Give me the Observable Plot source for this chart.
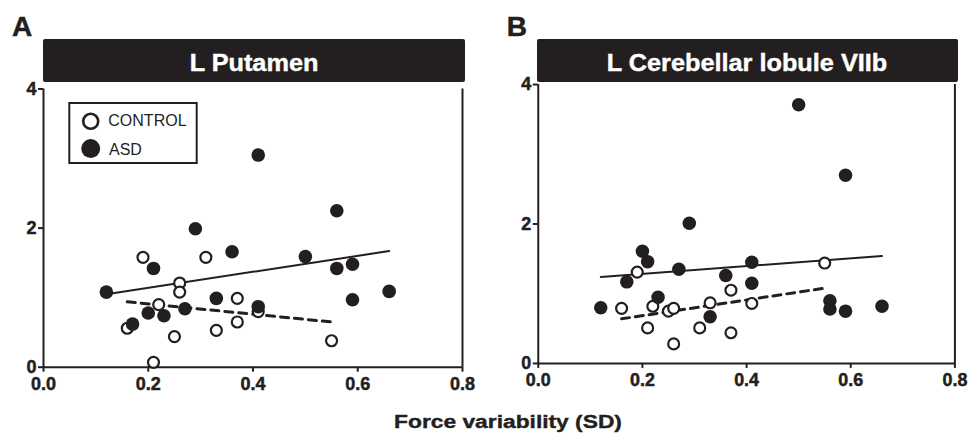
<!DOCTYPE html>
<html>
<head>
<meta charset="utf-8">
<script src="https://cdn.jsdelivr.net/npm/d3@7"></script>
<script src="https://cdn.jsdelivr.net/npm/@observablehq/plot@0.6"></script>
<style>
  body { margin: 0; background: #fff; font-family: "Liberation Sans", Arial, sans-serif; }
  #root { position: relative; width: 972px; height: 434px; overflow: hidden; background: #fff; }
  .panel { position: absolute; top: 0; }
  .panel svg { overflow: visible; }
  .panel svg text { font-weight: bold !important; font-size: 18px !important; stroke: #231f20; stroke-width: 0.5px; }
  #overlay, #legend { position: absolute; pointer-events: none; }
</style>
</head>
<body>
<div id="root">
  <div id="panelA" class="panel" style="left:0px"></div>
  <div id="panelB" class="panel" style="left:494.7px"></div>
</div>
<script>
// ---------- data ----------
const panelLetters = ["A", "B"];
const panelTitles = ["L Putamen", "L Cerebellar lobule VIIb"];
const xAxisLabel = "Force variability (SD)";
const groupNames = ["CONTROL", "ASD"];
const xTicks = [0, 0.2, 0.4, 0.6, 0.8];
const yTicks = [0, 2, 4];

// Panel A – L Putamen
const putamenControlX = [0.19, 0.31, 0.26, 0.26, 0.37, 0.22, 0.37, 0.33, 0.16, 0.25, 0.55, 0.21, 0.41];
const putamenControlY = [1.58, 1.58, 1.21, 1.08, 0.99, 0.90, 0.65, 0.53, 0.56, 0.44, 0.38, 0.07, 0.80];
const putamenAsdX = [0.41, 0.56, 0.29, 0.36, 0.50, 0.56, 0.59, 0.21, 0.12, 0.66, 0.59, 0.33, 0.41, 0.27, 0.20, 0.23, 0.17];
const putamenAsdY = [3.05, 2.25, 1.99, 1.66, 1.59, 1.42, 1.48, 1.42, 1.08, 1.09, 0.97, 0.99, 0.87, 0.84, 0.78, 0.74, 0.62];
const putamenAsdFitX = [0.12, 0.66];
const putamenAsdFitY = [1.05, 1.67];
const putamenControlFitX = [0.16, 0.55];
const putamenControlFitY = [0.94, 0.65];

// Panel B – L Cerebellar lobule VIIb
const cerebControlX = [0.55, 0.19, 0.37, 0.33, 0.41, 0.16, 0.22, 0.25, 0.26, 0.21, 0.31, 0.37, 0.26];
const cerebControlY = [1.44, 1.31, 1.05, 0.87, 0.86, 0.79, 0.82, 0.75, 0.79, 0.51, 0.51, 0.44, 0.28];
const cerebAsdX = [0.50, 0.59, 0.29, 0.20, 0.21, 0.41, 0.27, 0.36, 0.17, 0.41, 0.23, 0.12, 0.56, 0.56, 0.59, 0.66, 0.33];
const cerebAsdY = [3.71, 2.70, 2.01, 1.61, 1.46, 1.45, 1.35, 1.26, 1.17, 1.15, 0.95, 0.80, 0.90, 0.78, 0.75, 0.82, 0.67];
const cerebAsdFitX = [0.12, 0.66];
const cerebAsdFitY = [1.24, 1.54];
const cerebControlFitX = [0.16, 0.55];
const cerebControlFitY = [0.64, 1.08];

// ---------- drawing ----------
const ink = "#231f20";
const zip = (xs, ys) => xs.map((x, i) => ({x, y: ys[i]}));

function panel({controlX, controlY, asdX, asdY, asdFitX, asdFitY, ctrlFitX, ctrlFitY, marginTop, bottom}) {
  const marginBottom = 33;
  return Plot.plot({
    width: 480,
    height: bottom + marginBottom,
    marginLeft: 43,
    marginRight: 18,
    marginTop,
    marginBottom,
    x: {domain: [0, 0.8]},
    y: {domain: [0, 4]},
    style: {background: "transparent", color: ink, fontFamily: "Liberation Sans, Arial, sans-serif", fontSize: "18px", fontWeight: "bold"},
    marks: [
      Plot.ruleX([0, 0.8], {stroke: ink, strokeWidth: 2}),
      Plot.ruleY([0], {stroke: ink, strokeWidth: 2}),
      Plot.axisX({ticks: xTicks, tickFormat: d => d.toFixed(1), tickSize: 5, tickPadding: 5,
                  fontSize: 18, fontWeight: "bold", stroke: ink, strokeWidth: 2, label: null}),
      Plot.axisY({ticks: yTicks, tickFormat: d => String(d), tickSize: 5, tickPadding: 2,
                  fontSize: 18, fontWeight: "bold", stroke: ink, strokeWidth: 2, label: null}),
      Plot.line(zip(asdFitX, asdFitY), {x: "x", y: "y", stroke: ink, strokeWidth: 2}),
      Plot.line(zip(ctrlFitX, ctrlFitY), {x: "x", y: "y", stroke: ink, strokeWidth: 3, strokeDasharray: "8,6"}),
      Plot.dot(zip(controlX, controlY), {x: "x", y: "y", r: 5.5, fill: "white", stroke: ink, strokeWidth: 2.2}),
      Plot.dot(zip(asdX, asdY), {x: "x", y: "y", r: 6.8, fill: ink, stroke: "none"})
    ]
  });
}

document.getElementById("panelA").append(panel({
  controlX: putamenControlX, controlY: putamenControlY,
  asdX: putamenAsdX, asdY: putamenAsdY,
  asdFitX: putamenAsdFitX, asdFitY: putamenAsdFitY,
  ctrlFitX: putamenControlFitX, ctrlFitY: putamenControlFitY,
  marginTop: 88.5, bottom: 366.7
}));
document.getElementById("panelB").append(panel({
  controlX: cerebControlX, controlY: cerebControlY,
  asdX: cerebAsdX, asdY: cerebAsdY,
  asdFitX: cerebAsdFitX, asdFitY: cerebAsdFitY,
  ctrlFitX: cerebControlFitX, ctrlFitY: cerebControlFitY,
  marginTop: 84.5, bottom: 365
}));

// ---------- overlay: letters, title bars, shared x label ----------
const NS = "http://www.w3.org/2000/svg";
function el(tag, attrs, text) {
  const e = document.createElementNS(NS, tag);
  for (const k in attrs) e.setAttribute(k, attrs[k]);
  if (text != null) e.textContent = text;
  return e;
}
const root = document.getElementById("root");
const ov = el("svg", {id: "overlay", width: 972, height: 434, style: "left:0;top:0"});
const font = "Liberation Sans, Arial, sans-serif";
const bars = [{x: 43, w: 422, cx: 254, lx: 12}, {x: 537, w: 421, cx: 747, lx: 506.7}];
bars.forEach((b, i) => {
  ov.append(el("rect", {x: b.x, y: 39, width: b.w, height: 43, rx: 2, fill: ink}));
  ov.append(el("text", {transform: `translate(${b.cx},71) scale(1.1,1)`, "text-anchor": "middle",
    fill: "#fff", stroke: "#fff", "stroke-width": 0.4, "font-family": font, "font-weight": "bold", "font-size": 23}, panelTitles[i]));
  ov.append(el("text", {x: b.lx, y: 36, fill: ink, stroke: ink, "stroke-width": 0.5, "font-family": font, "font-weight": "bold", "font-size": 28}, panelLetters[i]));
});
ov.append(el("text", {transform: "translate(508,428) scale(1.2,1)", "text-anchor": "middle", fill: ink,
  stroke: ink, "stroke-width": 0.4, "font-family": font, "font-weight": "bold", "font-size": 19}, xAxisLabel));
root.append(ov);

// ---------- legend (panel A) ----------
const lg = el("svg", {id: "legend", width: 132, height: 66, style: "left:67px;top:100.7px"});
lg.append(el("rect", {x: 2.3, y: 2, width: 127.4, height: 60, fill: "#fff", stroke: ink, "stroke-width": 2}));
lg.append(el("circle", {cx: 23.7, cy: 20.3, r: 7.5, fill: "#fff", stroke: ink, "stroke-width": 2.6}));
lg.append(el("circle", {cx: 23.7, cy: 47.6, r: 9.5, fill: ink}));
lg.append(el("text", {x: 41.3, y: 24.8, fill: ink, "font-family": font, "font-size": 16}, groupNames[0]));
lg.append(el("text", {x: 42, y: 54.3, fill: ink, "font-family": font, "font-size": 16}, groupNames[1]));
root.append(lg);
</script>
</body>
</html>
